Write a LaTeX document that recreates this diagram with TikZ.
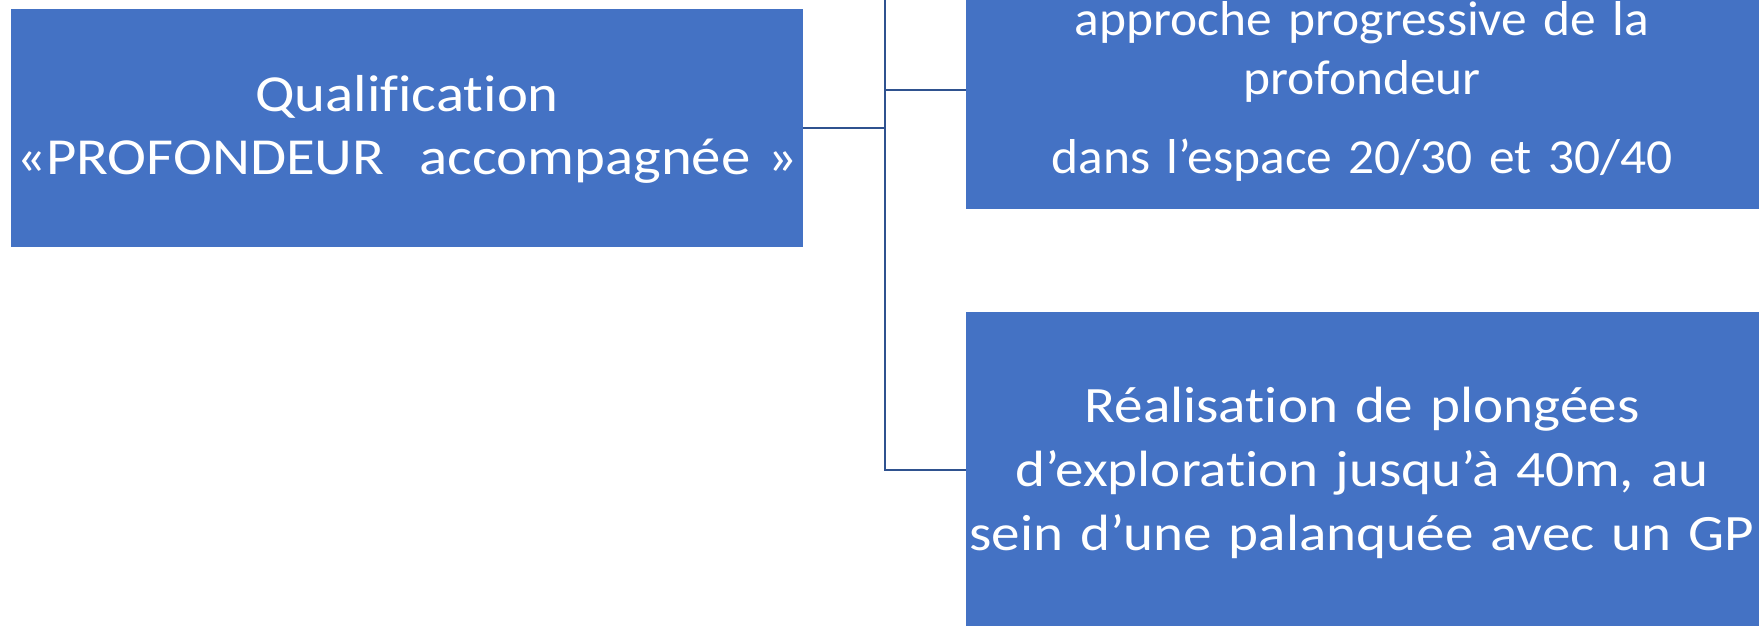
\documentclass[tikz,border=0pt]{standalone}
\usepackage{fontspec}
\setmainfont{Carlito}[Ligatures=NoCommon]
\newfontfamily\calL{Carlito}[Ligatures=NoCommon, FakeStretch=1.13]
\newfontfamily\calT{Carlito}[Ligatures=NoCommon, FakeStretch=1.05]
\newfontfamily\calB{Carlito}[Ligatures=NoCommon, FakeStretch=1.12]
\definecolor{boxblue}{HTML}{4472C4}
\definecolor{lineblue}{HTML}{2F528F}
\begin{document}
\begin{tikzpicture}[x=1pt,y=-1pt,
  box/.style={fill=boxblue, draw=none, inner sep=0pt, outer sep=0pt, anchor=north west},
  txt/.style={text=white, align=center, text width=900pt, inner sep=0pt, anchor=base},
  link/.style={draw=lineblue, line width=2.6pt}]
\useasboundingbox (0,0) rectangle (1762,625);
\clip (0,0) rectangle (1762,625);
\node[box, minimum width=792pt, minimum height=238pt] (qual) at (11,9) {};
\node[box, minimum width=793pt, minimum height=269pt] (top) at (966,-60) {};
\node[box, minimum width=793pt, minimum height=340pt] (bot) at (966,312) {};
\coordinate (j) at (885,128);
\coordinate (vtop) at (885,-10);
\coordinate (t) at (885,90);
\coordinate (b) at (885,470);
\draw[link] (qual.east) -- (j);
\draw[link] (vtop) -- (b) -- (b -| bot.west);
\draw[link] (t) -- (t -| top.west);
\node[txt, font=\calL\fontsize{52}{63}\selectfont] (qualtxt) at (407,111) {Qualification\\«PROFONDEUR\ \ accompagnée »};
\node[txt, font=\calT\fontsize{49}{59}\selectfont] (toptxt) at (1362,35) {approche progressive de la\\profondeur\\[20pt]dans l’espace 20/30 et 30/40};
\node[txt, font=\calB\fontsize{51}{64}\selectfont] (bottxt) at (1362,422) {Réalisation de plongées\\d’exploration jusqu’à 40m, au\\sein d’une palanquée avec un GP};
\end{tikzpicture}
\end{document}
